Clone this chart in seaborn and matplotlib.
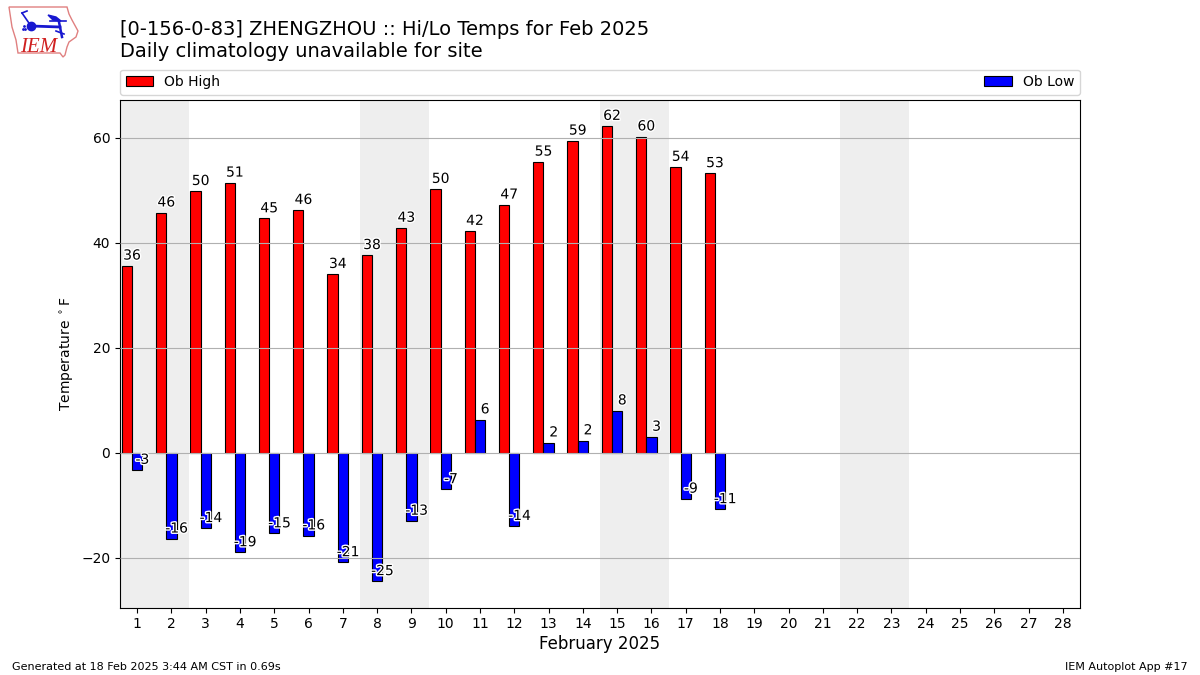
import pandas as pd
import matplotlib.pyplot as plt
import matplotlib.patheffects as PathEffects
from matplotlib.patches import Polygon
import seaborn as sns

# Datos
dias = list(range(1, 19))
altas = [35.6, 45.7, 49.8, 51.4, 44.6, 46.2, 34.0, 37.6, 42.8, 50.2, 42.2, 47.2, 55.4, 59.4, 62.2, 60.2, 54.4, 53.2]
bajas = [-3.3, -16.4, -14.4, -19.0, -15.4, -15.8, -20.9, -24.5, -13.0, -7.0, 6.3, -14.0, 1.9, 2.3, 8.0, 3.0, -8.8, -10.8]
etiquetas_altas = [36, 46, 50, 51, 45, 46, 34, 38, 43, 50, 42, 47, 55, 59, 62, 60, 54, 53]
etiquetas_bajas = [-3, -16, -14, -19, -15, -16, -21, -25, -13, -7, 6, -14, 2, 2, 8, 3, -9, -11]
fines_de_semana = [1, 8, 15, 22]
ticks_dias = list(range(1, 29))

data = pd.DataFrame({'dia': dias, 'alta': altas, 'baja': bajas})
data['x_alta'] = data['dia'] - 0.3

fig = plt.figure(figsize=(12, 6.75), dpi=100)
ax = fig.add_axes([120 / 1200, 1 - 607.5 / 675, 960 / 1200, 508 / 675])

# Fondo de fines de semana
for d in fines_de_semana:
    ax.axvspan(d - 0.5, d + 1.5, color='#EEEEEE', lw=0, zorder=0)

sns.barplot(data=data, x='x_alta', y='alta', native_scale=True, width=0.3, color='red', saturation=1,
            edgecolor='black', linewidth=0.8, orient='x', label='Ob High', ax=ax, zorder=2)
sns.barplot(data=data, x='dia', y='baja', native_scale=True, width=0.3, color='blue', saturation=1,
            edgecolor='black', linewidth=0.8, orient='x', label='Ob Low', ax=ax, zorder=2)

# Etiquetas de valores
for d, v, t in zip(dias, altas, etiquetas_altas):
    ax.text(d - 0.15, v + 0.6, str(t), ha='center', va='bottom', fontsize=10, zorder=4,
            path_effects=[PathEffects.withStroke(linewidth=2, foreground='white')])
for d, v, t in zip(dias, bajas, etiquetas_bajas):
    ax.text(d + 0.15, v + 0.6, str(t), ha='center', va='bottom', fontsize=10, zorder=4,
            path_effects=[PathEffects.withStroke(linewidth=2, foreground='white')])

ax.grid(axis='y', color='#b0b0b0', lw=0.8, zorder=3)
ax.set_axisbelow(False)
ax.set_xticks(ticks_dias)
ax.set_xticklabels([str(d) for d in ticks_dias])
ax.set_xlim(0.5, 28.5)
ax.set_ylim(-29.5, 67.25)
ax.set_xlabel('February 2025', fontsize=12, labelpad=3)
ax.set_ylabel('Temperature $^\\circ$F', fontsize=10)

ax.legend(loc='lower left', bbox_to_anchor=(0, 1.0095, 1, 0.05), mode='expand', ncol=2, fontsize=10,
          borderaxespad=0)

# Titulos y pie
fig.text(120 / 1200, 1 - 35 / 675, '[0-156-0-83] ZHENGZHOU :: Hi/Lo Temps for Feb 2025', fontsize=14, va='baseline')
fig.text(120 / 1200, 1 - 57 / 675, 'Daily climatology unavailable for site', fontsize=14, va='baseline')
fig.text(12 / 1200, 1 - 670 / 675, 'Generated at 18 Feb 2025 3:44 AM CST in 0.69s', fontsize=8, va='baseline')
fig.text(1188 / 1200, 1 - 670 / 675, 'IEM Autoplot App #17', fontsize=8, ha='right', va='baseline')

# Logo IEM
logo = fig.add_axes([0, 1 - 60 / 675, 90 / 1200, 60 / 675])
logo.set_xlim(0, 90)
logo.set_ylim(60, 0)
logo.axis('off')
contorno = [(9, 7), (67, 7), (69, 14), (72, 20), (78, 31), (76, 37), (69, 42), (67, 47), (65, 55), (63, 57),
            (60, 53), (18, 53), (16, 40), (12, 27)]
logo.add_patch(Polygon(contorno, closed=True, fill=False, edgecolor='#e08080', lw=1))
logo.plot([31, 60], [26, 27], color='#1818d0', lw=2)
logo.plot([22, 31], [13, 26], color='#1818d0', lw=1.2)
logo.plot([22, 27], [13, 11], color='#1818d0', lw=1.2)
logo.plot([31], [26], 'o', color='#1818d0', ms=6)
logo.plot([23, 25, 24], [29, 29, 26], '.', color='#1818d0', ms=2)
logo.add_patch(Polygon([(48, 15), (56, 17), (61, 21), (53, 20)], closed=True, color='#1818d0'))
logo.plot([50, 66], [21, 21], color='#1818d0', lw=1.2)
logo.plot([59, 62], [22, 37], color='#1818d0', lw=1.8)
logo.plot([56, 64], [31, 34], color='#1818d0', lw=1.2)
logo.text(20, 52, 'IEM', color='#d02020', fontsize=15, family='Liberation Serif', style='italic', va='baseline')

plt.savefig('out.png', dpi=100)
